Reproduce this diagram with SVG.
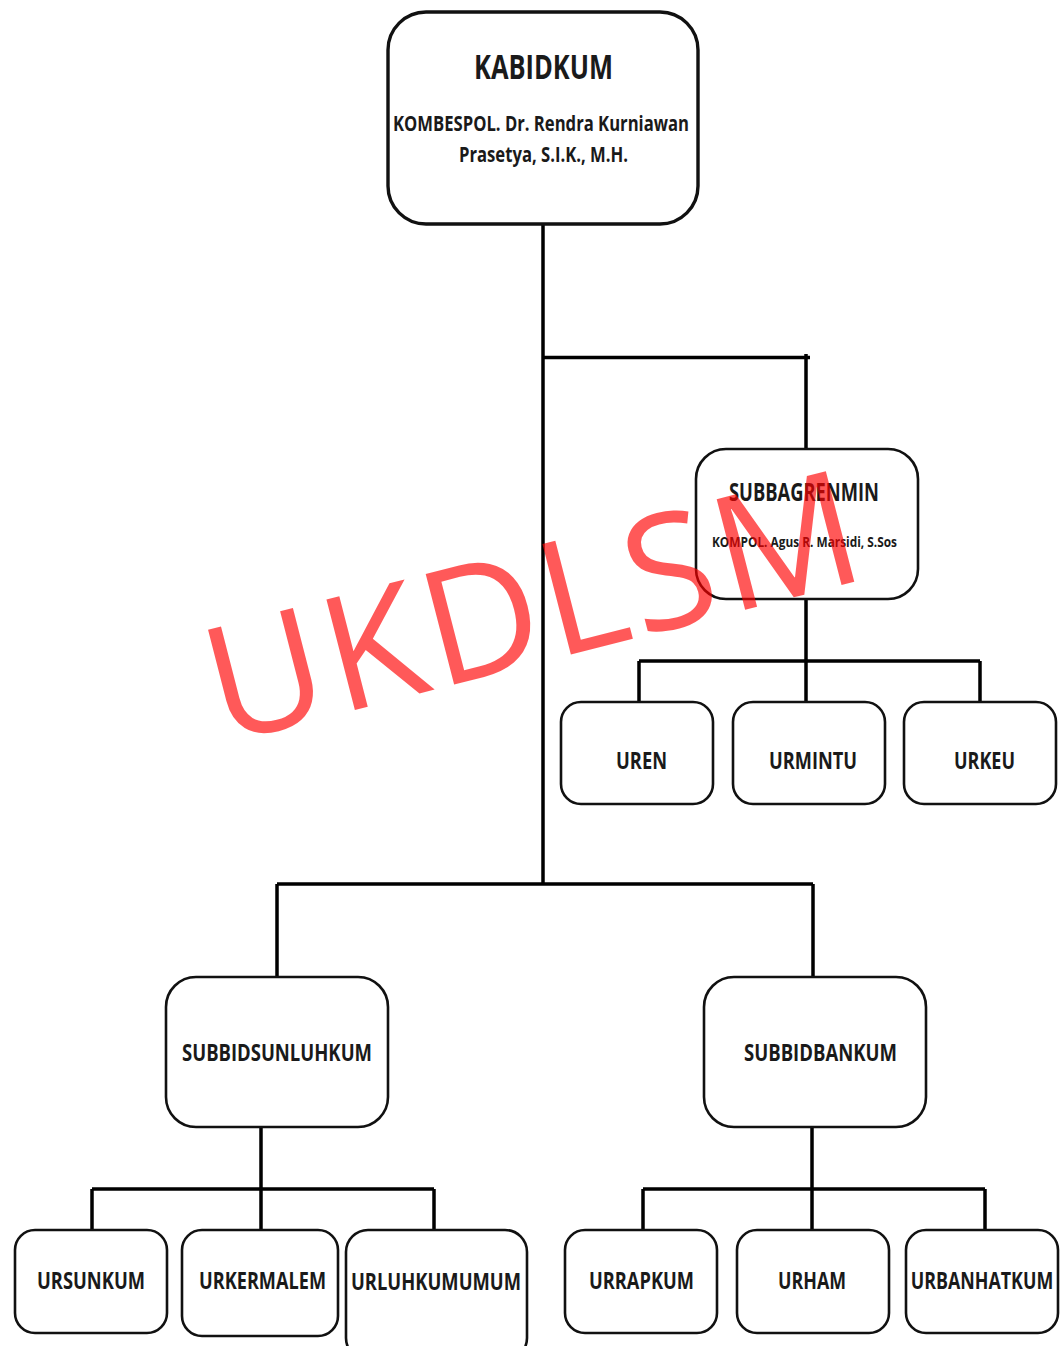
<svg xmlns="http://www.w3.org/2000/svg" width="1062" height="1346" viewBox="0 0 1062 1346">
<style>
.box{fill:#fff;stroke:#111;stroke-width:2.6}
.conn path{fill:none;stroke:#000;stroke-width:3.5}
text{font-family:"Open Sans","Noto Sans","Liberation Sans",sans-serif;font-weight:700;fill:#1a1a1a}
.t{font-size:24px}
.wm{font-family:"Open Sans","Noto Sans","Liberation Sans",sans-serif;font-weight:400;fill:#ff0000;fill-opacity:0.65}
</style>
<rect width="1062" height="1346" fill="#fff"/>
<g class="conn" id="connectors">
<path d="M543,224 V884"/>
<path d="M543,357.5 H810 M806,354 V449"/>
<path d="M806,599 V702 M639,661 H980 M639,661 V702 M980,661 V702"/>
<path d="M277,884 H813 M277,884 V977 M813,884 V977"/>
<path d="M261,1127 V1230 M92,1189 H434 M92,1189 V1230 M434,1189 V1230"/>
<path d="M812,1127 V1230 M643,1189 H985 M643,1189 V1230 M985,1189 V1230"/>
</g>
<g id="kabidkum">
<rect class="box" x="388" y="12" width="310" height="212" rx="38" style="stroke-width:3.4"/>
<text x="474" y="79" font-size="34" textLength="139" lengthAdjust="spacingAndGlyphs">KABIDKUM</text>
<text x="393" y="131" font-size="21" textLength="296" lengthAdjust="spacingAndGlyphs">KOMBESPOL. Dr. Rendra Kurniawan</text>
<text x="459" y="162" font-size="21" textLength="169" lengthAdjust="spacingAndGlyphs">Prasetya, S.I.K., M.H.</text>
</g>
<g id="subbagrenmin">
<rect class="box" x="696" y="449" width="222" height="150" rx="30"/>
<text x="729" y="501" font-size="25" textLength="150" lengthAdjust="spacingAndGlyphs">SUBBAGRENMIN</text>
<text x="712" y="547" font-size="14.5" textLength="185" lengthAdjust="spacingAndGlyphs">KOMPOL. Agus R. Marsidi, S.Sos</text>
</g>
<g id="uren">
<rect class="box" x="561" y="702" width="152" height="102" rx="20"/>
<text class="t" x="616" y="769" textLength="51" lengthAdjust="spacingAndGlyphs">UREN</text>
</g>
<g id="urmintu">
<rect class="box" x="733" y="702" width="152" height="102" rx="20"/>
<text class="t" x="769" y="769" textLength="88" lengthAdjust="spacingAndGlyphs">URMINTU</text>
</g>
<g id="urkeu">
<rect class="box" x="904" y="702" width="152" height="102" rx="20"/>
<text class="t" x="954" y="769" textLength="61" lengthAdjust="spacingAndGlyphs">URKEU</text>
</g>
<g id="subbidsunluhkum">
<rect class="box" x="166" y="977" width="222" height="150" rx="30"/>
<text class="t" x="182" y="1061" textLength="190" lengthAdjust="spacingAndGlyphs">SUBBIDSUNLUHKUM</text>
</g>
<g id="subbidbankum">
<rect class="box" x="704" y="977" width="222" height="150" rx="30"/>
<text class="t" x="744" y="1061" textLength="153" lengthAdjust="spacingAndGlyphs">SUBBIDBANKUM</text>
</g>
<g id="ursunkum">
<rect class="box" x="15" y="1230" width="152" height="103" rx="20"/>
<text class="t" x="37" y="1289" textLength="108" lengthAdjust="spacingAndGlyphs">URSUNKUM</text>
</g>
<g id="urkermalem">
<rect class="box" x="182" y="1230" width="156" height="106" rx="20"/>
<text class="t" x="199" y="1289" textLength="127" lengthAdjust="spacingAndGlyphs">URKERMALEM</text>
</g>
<g id="urluhkumumum">
<rect class="box" x="346" y="1230" width="181" height="130" rx="22"/>
<text class="t" x="351" y="1290" textLength="170" lengthAdjust="spacingAndGlyphs">URLUHKUMUMUM</text>
</g>
<g id="urrapkum">
<rect class="box" x="565" y="1230" width="152" height="103" rx="20"/>
<text class="t" x="589" y="1289" textLength="105" lengthAdjust="spacingAndGlyphs">URRAPKUM</text>
</g>
<g id="urham">
<rect class="box" x="737" y="1230" width="152" height="103" rx="20"/>
<text class="t" x="778" y="1289" textLength="68" lengthAdjust="spacingAndGlyphs">URHAM</text>
</g>
<g id="urbanhatkum">
<rect class="box" x="906" y="1230" width="152" height="103" rx="20"/>
<text x="0" y="0" font-size="23.5" text-anchor="middle" transform="translate(982,1289) scale(0.76,1)">URBANHATKUM</text>
</g>
<g id="watermark">
<text class="wm" x="-334" y="0" font-size="160" textLength="668" lengthAdjust="spacing" transform="translate(546,661) rotate(-14.4)">UKDLSM</text>
</g>
</svg>
